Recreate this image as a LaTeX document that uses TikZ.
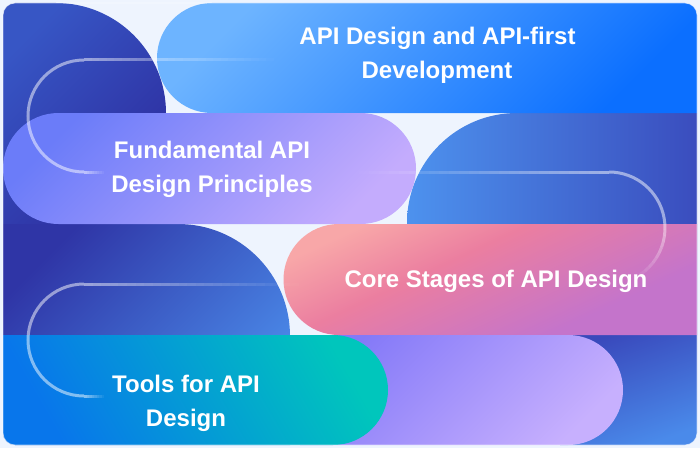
\documentclass[tikz,border=0pt]{standalone}
\usepackage{fontspec}
\setmainfont{Liberation Sans}
\definecolor{bgc}{HTML}{EEF4FE}
\definecolor{aTop}{HTML}{3756C5}
\definecolor{aBot}{HTML}{2D2C9E}
\definecolor{bL}{HTML}{4D92EE}
\definecolor{bR}{HTML}{3A4DBE}
\definecolor{cTop}{HTML}{2F35A6}
\definecolor{cBot}{HTML}{4C8EEC}
\definecolor{dTop}{HTML}{3949BC}
\definecolor{dBot}{HTML}{4A8AEA}
\definecolor{pATop}{HTML}{6DB4FF}
\definecolor{pABot}{HTML}{0B6FFF}
\definecolor{pBTop}{HTML}{6B7CF9}
\definecolor{pBMid}{HTML}{9381F9}
\definecolor{pBBot}{HTML}{C4ACFD}
\definecolor{pCTop}{HTML}{F8A7A8}
\definecolor{pCMid}{HTML}{EB7EA0}
\definecolor{pCBot}{HTML}{C474CB}
\definecolor{pDTop}{HTML}{8479F8}
\definecolor{pDBot}{HTML}{C7B0FE}
\definecolor{pETop}{HTML}{00C6BC}
\definecolor{pEBot}{HTML}{0876EB}
\pgfdeclarehorizontalshading{pinkgrad}{100bp}{color(0bp)=(pCTop); color(25bp)=(pCTop); color(42bp)=(pCMid); color(68bp)=(pCBot); color(100bp)=(pCBot)}
\begin{document}
\begin{tikzpicture}[x=1pt,y=1pt,
  lbl/.style={text=white, font=\bfseries\fontsize{24}{34}\selectfont, inner sep=0pt, anchor=base},
  deco/.style={draw=white, line width=3pt, opacity=0.5},
]
\fill[bgc] (0,0) rectangle (700,448);
\useasboundingbox (0,0) rectangle (700,448);
\begin{scope}
\clip[rounded corners=12pt] (3,3) rectangle (697,445);
% background shapes
\shade[top color=aTop, bottom color=aBot, shading angle=45]
  (3,224) -- (3,445) -- (56,445) arc[start angle=90,end angle=0,radius=110] -- (166,224) -- cycle;
\shade[left color=bL, right color=bR]
  (697,335) -- (517,335) arc[start angle=90,end angle=180,radius=110] -- (407,113) -- (697,113) -- cycle;
\shade[top color=dTop, bottom color=dBot, shading angle=20]
  (560,3) rectangle (697,113);
\shade[top color=cTop, bottom color=cBot, shading angle=45]
  (3,224) -- (178,224) arc[start angle=90,end angle=0,radius=112] -- (290,3) -- (3,3) -- cycle;
% pills
\shade[top color=pATop, bottom color=pABot, shading angle=45]
  (697,445) -- (212,445) arc[start angle=90,end angle=270,radius=55] -- (697,335) -- cycle;
\shade[top color=pBTop, middle color=pBMid, bottom color=pBBot, shading angle=45]
  (58.5,335) -- (360.5,335) arc[start angle=90,end angle=-90,radius=55.5] -- (58.5,224) arc[start angle=270,end angle=90,radius=55.5] -- cycle;
\shade[shading=pinkgrad, shading angle=-65]
  (697,224) -- (339,224) arc[start angle=90,end angle=270,radius=55.5] -- (697,113) -- cycle;
\shade[top color=pDTop, bottom color=pDBot, shading angle=45]
  (300,113) -- (568,113) arc[start angle=90,end angle=-90,radius=55] -- (300,3) -- cycle;
\shade[top color=pETop, bottom color=pEBot, shading angle=-60]
  (3,113) -- (333,113) arc[start angle=90,end angle=-90,radius=55] -- (3,3) -- cycle;
% decorative lines
\foreach \i in {0,...,24}{\pgfmathsetmacro\op{0.5*(1-\i/25)}
  \draw[deco, opacity=\op] ({84+\i*7.6},388) -- ({84+(\i+1)*7.6},388);}
\draw[deco] (84,388) arc[start angle=90,end angle=270,radius=56];
\foreach \i in {0,...,7}{\pgfmathsetmacro\op{0.5*(1-\i/8)}
  \draw[deco, opacity=\op] ({84+\i*2.5},276) -- ({84+(\i+1)*2.5},276);}
\foreach \i in {0,...,24}{\pgfmathsetmacro\op{0.5*(1-\i/25)}
  \draw[deco, opacity=\op] ({609-\i*10},276) -- ({609-(\i+1)*10},276);}
\draw[deco] (609,276) arc[start angle=90,end angle=10,radius=56];
\foreach \i in {0,...,11}{\pgfmathsetmacro\op{0.5*(1-\i/12)}
  \draw[deco, opacity=\op] ({609+56*cos(10-\i*6)},{220+56*sin(10-\i*6)}) arc[start angle={10-\i*6},end angle={4-\i*6},radius=56];}
\foreach \i in {0,...,24}{\pgfmathsetmacro\op{0.5*(1-\i/25)}
  \draw[deco, opacity=\op] ({84+\i*8.6},164) -- ({84+(\i+1)*8.6},164);}
\draw[deco] (84,164) arc[start angle=90,end angle=270,radius=56];
\foreach \i in {0,...,7}{\pgfmathsetmacro\op{0.5*(1-\i/8)}
  \draw[deco, opacity=\op] ({84+\i*2.5},52) -- ({84+(\i+1)*2.5},52);}
\end{scope}
\draw[white, opacity=0.6, line width=0.8pt, rounded corners=12pt] (3,3) rectangle (697,445);
% labels
\node[lbl] (t1a) at (437.5,403) {API Design and API-first};
\node[lbl] (t1b) at (437,369) {Development};
\node[lbl] (t2a) at (212,290) {Fundamental API};
\node[lbl] (t2b) at (212,256) {Design Principles};
\node[lbl] (t3) at (496,161) {Core Stages of API Design};
\node[lbl] (t4a) at (186,56) {Tools for API};
\node[lbl] (t4b) at (186,22) {Design};
\end{tikzpicture}
\end{document}
